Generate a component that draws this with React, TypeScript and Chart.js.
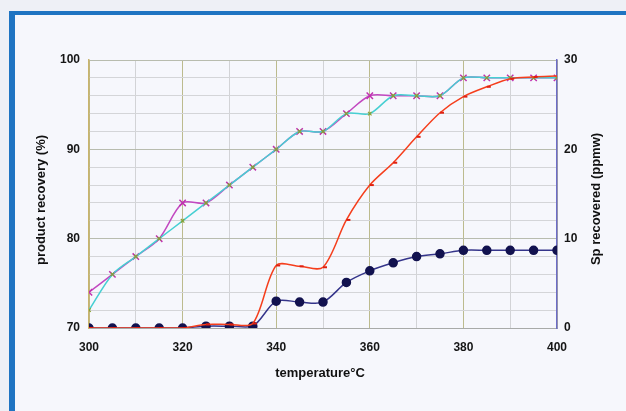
import React, { useEffect, useRef } from "react";
import { Chart, registerables } from "chart.js";

Chart.register(...registerables);

const temperatures = [300, 305, 310, 315, 320, 325, 330, 335, 340, 345, 350, 355, 360, 365, 370, 375, 380, 385, 390, 395, 400];
const recoveryMagenta = [74, 76, 78, 80, 84, 84, 86, 88, 90, 92, 92, 94, 96, 96, 96, 96, 98, 98, 98, 98, 98];
const recoveryCyan = [72, 76, 78, 80, 82, 84, 86, 88, 90, 92, 92, 94, 94, 96, 96, 96, 98, 98, 98, 98, 98];
const spRed = [0, 0, 0, 0, 0, 0.4, 0.4, 0.5, 7.0, 6.9, 6.8, 12.1, 16.0, 18.5, 21.4, 24.1, 25.9, 27.0, 27.9, 28.1, 28.2];
const spNavy = [0, 0, 0, 0, 0, 0.2, 0.2, 0.2, 3.0, 2.9, 2.9, 5.1, 6.4, 7.3, 8.0, 8.3, 8.7, 8.7, 8.7, 8.7, 8.7];

const xTitle = "temperature°C";
const leftTitle = "product recovery (%)";
const rightTitle = "Sp recovered (ppmw)";

const FONT = '"Liberation Sans", Arial, sans-serif';

const pts = (ys: number[]) => temperatures.map((x, i) => ({ x, y: ys[i] }));

const titlePlugin = {
  id: "titles",
  afterDraw(chart: any) {
    const { ctx, chartArea } = chart;
    ctx.save();
    ctx.font = `bold 13px ${FONT}`;
    ctx.fillStyle = "#111";
    ctx.textAlign = "center";
    ctx.textBaseline = "middle";
    ctx.fillText(xTitle, (chartArea.left + chartArea.right) / 2 - 3, chartArea.bottom + 45);
    ctx.save();
    ctx.translate(chartArea.left - 48, (chartArea.top + chartArea.bottom) / 2 + 6);
    ctx.rotate(-Math.PI / 2);
    ctx.fillText(leftTitle, 0, 0);
    ctx.restore();
    ctx.save();
    ctx.translate(chartArea.right + 39, (chartArea.top + chartArea.bottom) / 2 + 5);
    ctx.rotate(-Math.PI / 2);
    ctx.fillText(rightTitle, 0, 0);
    ctx.restore();
    ctx.restore();
  },
};

export default function App() {
  const ref = useRef<HTMLCanvasElement>(null);
  useEffect(() => {
    const chart = new Chart(ref.current!, {
      type: "line",
      data: {
        datasets: [
          {
            data: pts(spRed),
            yAxisID: "y2",
            borderColor: "#f53e1c",
            pointBorderColor: "#e02010",
            pointStyle: "dash",
            pointRadius: 4,
            pointBorderWidth: 2,
            borderWidth: 1.5,
            tension: 0.3,
          },
          {
            data: pts(spNavy),
            yAxisID: "y2",
            borderColor: "#34348a",
            backgroundColor: "#12124f",
            pointBackgroundColor: "#12124f",
            pointBorderColor: "#12124f",
            pointStyle: "circle",
            pointRadius: 4,
            borderWidth: 1.5,
            tension: 0.3,
          },
          {
            data: pts(recoveryCyan),
            yAxisID: "y",
            borderColor: "#46cfd2",
            pointBorderColor: "#8aa030",
            pointStyle: "crossRot",
            pointRadius: 2.5,
            pointBorderWidth: 1.2,
            borderWidth: 1.5,
            tension: 0.3,
          },
          {
            data: pts(recoveryMagenta),
            yAxisID: "y",
            borderColor: "#c248c0",
            pointBorderColor: "#c030b0",
            pointStyle: "crossRot",
            pointRadius: 4.5,
            pointBorderWidth: 1.5,
            borderWidth: 1.5,
            tension: 0.3,
          },
        ],
      },
      options: {
        animation: false,
        responsive: false,
        devicePixelRatio: 1,
        layout: { padding: { top: 60, left: 0, right: 0, bottom: 0 } },
        plugins: { legend: { display: false }, tooltip: { enabled: false } },
        scales: {
          x: {
            type: "linear",
            min: 300,
            max: 400,
            afterFit: (s: any) => {
              s.height = 83;
            },
            border: { color: "#a8aaa8", width: 1 },
            grid: {
              drawTicks: false,
              color: (c: any) => (c.tick && c.tick.value % 20 === 0 ? "#bcbb8e" : "#d2d3d6"),
              lineWidth: 1,
            },
            ticks: {
              stepSize: 10,
              padding: 12,
              color: "#151515",
              font: { family: FONT, size: 12, weight: "bold" },
              callback: (v: any) => (Number(v) % 20 === 0 ? String(v) : ""),
              maxRotation: 0,
              autoSkip: false,
            },
          },
          y: {
            position: "left",
            min: 70,
            max: 100,
            afterFit: (s: any) => {
              s.width = 89;
            },
            border: { color: "#c8b46e", width: 1.5 },
            grid: {
              drawTicks: false,
              color: (c: any) => (c.tick && c.tick.value % 10 === 0 ? "#b8bcae" : "#d4d5d8"),
              lineWidth: 1,
            },
            ticks: {
              stepSize: 2,
              padding: 9,
              color: "#151515",
              font: { family: FONT, size: 12, weight: "bold" },
              callback: (v: any) => (Number(v) % 10 === 0 ? String(v) : ""),
              autoSkip: false,
            },
          },
          y2: {
            position: "right",
            min: 0,
            max: 30,
            afterFit: (s: any) => {
              s.width = 69;
            },
            border: { color: "#6c6cc8", width: 1.5 },
            grid: { drawOnChartArea: false, drawTicks: false },
            ticks: {
              stepSize: 10,
              padding: 7,
              color: "#151515",
              font: { family: FONT, size: 12, weight: "bold" },
            },
          },
        },
      } as any,
      plugins: [titlePlugin],
    });
    return () => chart.destroy();
  }, []);

  return (
    <div style={{ position: "fixed", left: 0, top: 0, width: 626, height: 411, background: "#eef0f6", overflow: "hidden" }}>
      <div
        style={{
          position: "absolute",
          left: 9,
          top: 11,
          width: 640,
          height: 420,
          borderLeft: "6px solid #1f74c2",
          borderTop: "4px solid #1f74c2",
          background: "#f6f7fc",
        }}
      />
      <canvas ref={ref} width={626} height={411} style={{ position: "absolute", left: 0, top: 0, width: 626, height: 411 }} />
    </div>
  );
}
